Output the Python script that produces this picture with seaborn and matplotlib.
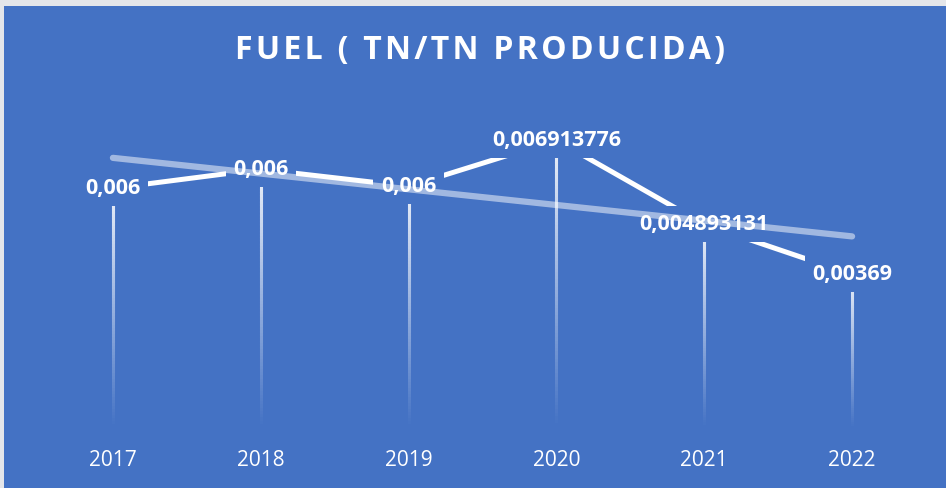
"""Fuel per produced tonne, with linear trend, Excel-style blue card."""
import matplotlib
matplotlib.use("Agg")
import matplotlib.pyplot as plt
from matplotlib.collections import LineCollection
from matplotlib.colors import to_rgb
from matplotlib.patches import Rectangle
import numpy as np
import pandas as pd
import seaborn as sns

years = [2017, 2018, 2019, 2020, 2021, 2022]
fuel = [0.005759, 0.006216, 0.005807, 0.006913776, 0.004893131, 0.00369]
point_labels = ["0,006", "0,006", "0,006", "0,006913776", "0,004893131", "0,00369"]
title = "FUEL ( TN/TN PRODUCIDA)"

BLUE = "#4472C4"

sns.set_style("white")
plt.rcParams['font.family'] = ['Open Sans', 'DejaVu Sans']

df = pd.DataFrame({"year": years, "fuel": fuel})

fig = plt.figure(figsize=(9.46, 4.88), dpi=100, facecolor="#E4E6EA")
# blue card, leaving a thin grey border on the top and left
fig.patches.append(Rectangle((4 / 946, 0), 1, 482 / 488, transform=fig.transFigure,
                             facecolor=BLUE, edgecolor='none', zorder=-1))
ax = fig.add_axes([39 / 946, 60 / 488, 887 / 946, 333 / 488])
ax.set_facecolor('none')

# drop lines fading from white into the background
n = 80
white = np.array([1.0, 1.0, 1.0])
blue = np.array(to_rgb(BLUE))
for x, y in zip(years, fuel):
    ys = np.linspace(y, 0, n + 1)
    step = ys[0] - ys[1]
    segs = [[(x, ys[i] + step * 0.3), (x, ys[i + 1] - step * 0.3)] for i in range(n)]
    t = np.linspace(0.1, 1.0, n)
    cols = [tuple(white * (1 - k) + blue * k) for k in t]
    ax.add_collection(LineCollection(segs, colors=cols, linewidths=2.2,
                                     capstyle='butt', zorder=1))

sns.lineplot(data=df, x="year", y="fuel", color="white", linewidth=3.6,
             ax=ax, zorder=2)

for x, y, lab in zip(years, fuel, point_labels):
    ax.text(x, y, lab, ha='center', va='center', fontsize=15.5, fontweight='bold',
            color='white', zorder=3,
            bbox=dict(boxstyle='square,pad=0.35', fc=BLUE, ec='none'))

# linear trendline
sns.regplot(data=df, x="year", y="fuel", scatter=False, ci=None, ax=ax,
            line_kws=dict(color='white', alpha=0.5, linewidth=4.5,
                          solid_capstyle='round', zorder=4))

ax.set_xlim(2016.5, 2022.5)
ax.set_ylim(0, 0.008)
ax.set_xticks(years)
ax.set_xticklabels([str(y) for y in years])
ax.set_yticks([])
ax.tick_params(axis='x', length=0, pad=16, labelsize=15, labelcolor='white')
ax.set_xlabel('')
ax.set_ylabel('')
for s in ax.spines.values():
    s.set_visible(False)

# spaced-out title like the original
fig.text(480 / 946, (488 - 51) / 488, "\u200a".join(title), ha='center', va='center',
         fontsize=23, fontweight='bold', color='white')

fig.savefig("out.png", dpi=100, facecolor=fig.get_facecolor())
